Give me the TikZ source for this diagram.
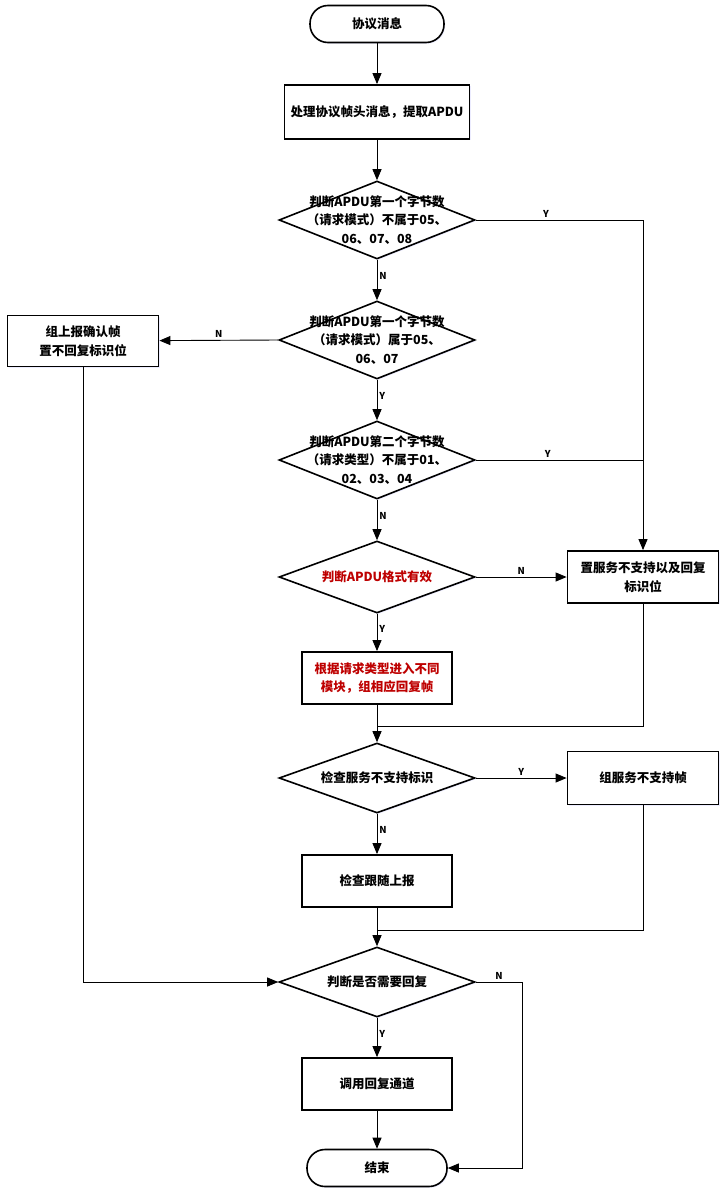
\documentclass[tikz,border=0pt]{standalone}
\usepackage{fontspec}
\setmainfont{Noto Sans CJK SC}
\usetikzlibrary{positioning,arrows.meta,shapes.geometric,shadows}
\definecolor{textred}{RGB}{190,0,0}

\begin{document}
\begin{tikzpicture}[x=1pt,y=-1pt,>={Triangle[length=11pt,width=9pt]},
  every node/.style={font=\fontsize{12.5}{18.5}\selectfont\bfseries},
  boxshadow/.style={drop shadow={opacity=0.3,fill=blue!25,shadow xshift=1.2pt,shadow yshift=-1.2pt}},
  proc/.style={draw,line width=1.8pt,fill=white,boxshadow,minimum width=150pt,minimum height=52pt,align=center,inner sep=2pt},
  term/.style={draw,line width=1.6pt,fill=white,boxshadow,rounded corners=18pt,minimum width=134pt,minimum height=37pt},
  decision/.style={draw,diamond,line width=1.6pt,fill=white,boxshadow,minimum width=196pt,minimum height=78pt,inner sep=0pt},
  dtext/.style={align=center},
  yn/.style={font=\fontsize{9.5}{10}\selectfont\bfseries,inner sep=2pt},
  conn/.style={line width=0.9pt}]
\useasboundingbox (0,0) rectangle (726,1199);

% main column
\node[term] (start) at (377,24) {协议消息};
\node[proc,minimum width=185pt,minimum height=54pt] (hdr) at (377,112) {处理协议帧头消息，提取APDU};
\node[decision,label={[dtext]center:{判断APDU第一个字节数\\（请求模式）不属于05、\\06、07、08}}] (d1) at (377,220) {};
\node[decision,label={[dtext]center:{判断APDU第一个字节数\\（请求模式）属于05、\\06、07}}] (d2) at (377,340) {};
\node[decision,label={[dtext]center:{判断APDU第二个字节数\\（请求类型）不属于01、\\02、03、04}}] (d3) at (377,460) {};
\node[decision,minimum height=72pt,label={[dtext,text=textred]center:{判断APDU格式有效}}] (d4) at (377,577) {};
\node[proc,text=textred] (dispatch) at (377,678) {根据请求类型进入不同\\模块，组相应回复帧};
\node[decision,minimum height=70pt,label={[dtext]center:{检查服务不支持标识}}] (d5) at (377,778) {};
\node[proc] (follow) at (377,881) {检查跟随上报};
\node[decision,minimum height=70pt,label={[dtext]center:{判断是否需要回复}}] (d6) at (377,982) {};
\node[proc] (reply) at (377,1084) {调用回复通道};
\node[term,minimum width=140pt] (finish) at (377,1168) {结束};

% side boxes
\node[proc,minimum width=151pt,minimum height=51pt] (ack) at (83,341) {组上报确认帧\\置不回复标识位};
\node[proc,minimum width=151pt] (unsup) at (643,577) {置服务不支持以及回复\\标识位};
\node[proc,minimum width=151pt,minimum height=53pt] (unsupfrm) at (643,778) {组服务不支持帧};

\coordinate (m1) at (377,726);
\coordinate (m2) at (377,930);
\coordinate (c6) at (522,982);

% connectors
\draw[conn,->] (start) -- (hdr);
\draw[conn,->] (hdr) -- (d1);
\draw[conn,->] (d1) -- node[yn,right,pos=0.4]{N} (d2);
\draw[conn,->] (d1.east) -| node[yn,above,pos=0.21]{Y} (unsup.north);
\draw[conn,->] (d2.west) -- node[yn,above]{N} (ack);
\draw[conn,->] (d2) -- node[yn,right,pos=0.4]{Y} (d3);
\draw[conn] (d3.east) -- node[yn,above,pos=0.43]{Y} (d3.east -| unsup.north);
\draw[conn,->] (d3) -- node[yn,right,pos=0.4]{N} (d4);
\draw[conn,->] (d4) -- node[yn,above]{N} (unsup);
\draw[conn,->] (d4) -- node[yn,right,pos=0.4]{Y} (dispatch);
\draw[conn,->] (dispatch) -- (d5);
\draw[conn] (unsup.south) |- (m1);
\draw[conn,->] (d5) -- node[yn,above]{Y} (unsupfrm);
\draw[conn,->] (d5) -- node[yn,right,pos=0.4]{N} (follow);
\draw[conn,->] (follow) -- (d6);
\draw[conn] (unsupfrm.south) |- (m2);
\draw[conn,->] (ack.south) |- (d6.west);
\draw[conn,->] (d6.east) -- node[yn,above]{N} (c6) |- (finish.east);
\draw[conn,->] (d6) -- node[yn,right,pos=0.4]{Y} (reply);
\draw[conn,->] (reply) -- (finish);
\end{tikzpicture}
\end{document}
